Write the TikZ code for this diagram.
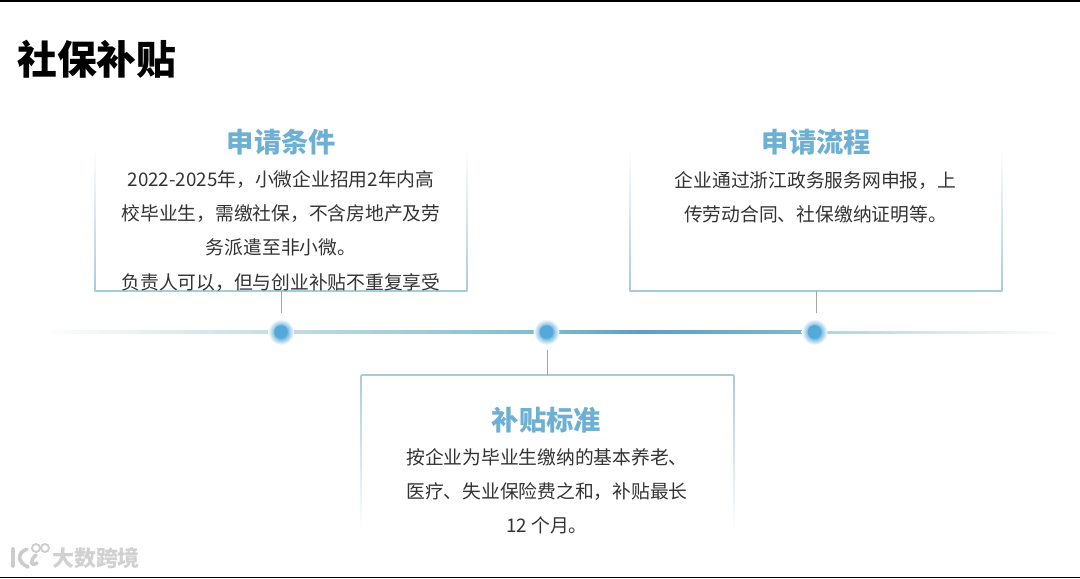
\documentclass[tikz,border=0pt]{standalone}
\usepackage{fontspec}
\setmainfont{Noto Sans CJK SC}
\usetikzlibrary{calc,positioning}

\definecolor{headblue}{HTML}{6DB0D3}
\definecolor{dotblue}{HTML}{55A9D9}
\definecolor{boxline}{HTML}{A9CBD9}
\definecolor{bodygray}{HTML}{333333}
\definecolor{barteal}{HTML}{7FBBCB}
\definecolor{bardeep}{HTML}{5C9FC6}
\definecolor{barpale}{HTML}{C5DCE3}

\pgfdeclareradialshading{dothalo}{\pgfpoint{0bp}{0bp}}{color(0bp)=(dotblue); color(13bp)=(dotblue!80); color(18bp)=(dotblue!45); color(25bp)=(white); color(50bp)=(white)}

\tikzset{
    titletext/.style = {font=\fontsize{28.3}{32}\selectfont\bfseries, text=black, inner sep=0pt},
    headtext/.style = {font=\fontsize{19.4}{22}\selectfont\bfseries, text=headblue, inner sep=0pt},
    bodytext/.style = {font=\fontsize{13.35}{24.2}\selectfont, text=bodygray, align=center, inner sep=0pt},
    marktext/.style = {font=\fontsize{15.6}{18}\selectfont\bfseries, text=black!18, inner sep=0pt},
    boxedge/.style = {boxline, line width = 0.3mm},
    tick/.style = {black!35, line width = 0.2mm},
    markline/.style = {black!20, line width = 0.9mm, line cap=round},
}

\begin{document}
\begin{tikzpicture}[x=0.25mm, y=-0.25mm]
    \useasboundingbox (0,0) rectangle (1080,578);
    \fill[white] (0,0) rectangle (1080,578);

    % screen edges
    \fill[black] (0,0) rectangle (1080,1.5);
    \fill[black] (0,576.5) rectangle (1080,578);

    \node[titletext] (title) at (97, 59) {社保补贴};

    % time line
    \foreach \xa/\xb/\ca/\cb in {40/281/white/barpale, 281/546/barpale/barteal, 546/640/barteal/bardeep, 640/815/bardeep/barteal}
        \shade[left color=\ca, right color=\cb] (\xa, 330.8) rectangle (\xb, 333.8);
    \shade[left color=barteal!65, right color=white] (815, 331) rectangle (1065, 333.6);

    \foreach \name/\x in {dotcond/281, dotstd/546.5, dotflow/814.5} {
        \shade[shading=dothalo] (\x, 332) circle (13);
        \node[circle, fill=dotblue, inner sep=0pt, minimum size=3.4mm] (\name) at (\x, 332) {};
    }

    % upper boxes
    \foreach \x/\name in {95/cond, 630/flow} {
        \coordinate (\name sw) at (\x, 291);
        \coordinate (\name se) at (\x+372, 291);
        \coordinate (\name low) at (\x+186, 291);
        \coordinate (\name tick) at (\x+186, 313);
        \draw[boxedge] (\name sw) -- (\name se);
        \shade[top color=white, bottom color=boxline] (\x-0.6, 148) rectangle (\x+0.6, 291);
        \shade[top color=white, bottom color=boxline] (\x+371.4, 148) rectangle (\x+372.6, 291);
        \draw[tick] (\name low) -- (\name tick);
    }

    % lower box
    \coordinate (stdnw) at (361, 375);
    \coordinate (stdne) at (734, 375);
    \coordinate (stdup) at (547, 375);
    \coordinate (stdtick) at (547, 350);
    \draw[boxedge] (stdnw) -- (stdne);
    \shade[top color=boxline, bottom color=white] (360.4, 375) rectangle (361.6, 530);
    \shade[top color=boxline, bottom color=white] (733.4, 375) rectangle (734.6, 530);
    \draw[tick] (stdup) -- (stdtick);

    % headings
    \node[headtext] (headcond) at (281.5, 142) {申请条件};
    \node[headtext] (headflow) at (816.5, 142) {申请流程};
    \node[headtext] (headstd) at (546.5, 420) {补贴标准};

    % texts
    \node[bodytext] (textcond) at (281, 231) {2022-2025年，小微企业招用2年内高\\校毕业生，需缴社保，不含房地产及劳\\务派遣至非小微。\\负责人可以，但与创业补贴不重复享受};
    \node[bodytext] (textflow) at (815.5, 197) {企业通过浙江政务服务网申报，上\\传劳动合同、社保缴纳证明等。};
    \node[bodytext] (textstd) at (547, 491) {按企业为毕业生缴纳的基本养老、\\医疗、失业保险费之和，补贴最长\\12 个月。};

    % watermark
    \draw[markline] (13,549) -- (13,566);
    \draw[markline] (27,549) .. controls (17,553) and (17,562) .. (28,567);
    \draw[markline] (36,555) .. controls (30,560) and (30,567) .. (37,563);
    \draw[black!20, line width = 0.45mm] (36,548) circle (4);
    \draw[black!20, line width = 0.45mm] (45,548) circle (4);
    \node[marktext] (mark) at (96, 558) {大数跨境};
\end{tikzpicture}
\end{document}
